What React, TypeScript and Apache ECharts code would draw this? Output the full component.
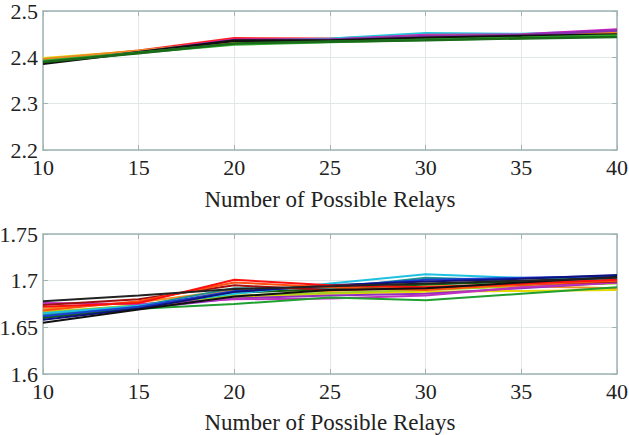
import React, { useEffect, useRef } from "react";
import * as echarts from "echarts";

const relays = [10, 15, 20, 25, 30, 35, 40];
const xTicks = [10, 15, 20, 25, 30, 35, 40];
const topYTicks = [2.2, 2.3, 2.4, 2.5];
const bottomYTicks = [1.6, 1.65, 1.7, 1.75];
const axisTitle = "Number of Possible Relays";

// Top panel series
const topYellow = [2.398, 2.413, 2.432, 2.436, 2.444, 2.446, 2.45];
const topBlue = [2.388, 2.412, 2.437, 2.437, 2.445, 2.447, 2.455];
const topRed = [2.392, 2.414, 2.441, 2.44, 2.447, 2.448, 2.455];
const topCyan = [2.395, 2.413, 2.435, 2.44, 2.452, 2.45, 2.457];
const topMagenta = [2.39, 2.412, 2.438, 2.438, 2.448, 2.449, 2.46];
const topOrange = [2.396, 2.414, 2.434, 2.437, 2.446, 2.448, 2.453];
const topPurple = [2.389, 2.411, 2.437, 2.438, 2.446, 2.448, 2.458];
const topBlack = [2.386, 2.411, 2.436, 2.436, 2.442, 2.446, 2.449];
const topGreen = [2.392, 2.41, 2.428, 2.433, 2.438, 2.442, 2.447];
const topDarkGreen = [2.39, 2.409, 2.43, 2.434, 2.437, 2.441, 2.444];

// Bottom panel series
const botBlack1 = [1.678, 1.684, 1.691, 1.694, 1.697, 1.7, 1.703];
const botBlack2 = [1.655, 1.669, 1.683, 1.69, 1.692, 1.698, 1.704];
const botRed = [1.672, 1.676, 1.701, 1.695, 1.693, 1.697, 1.701];
const botOrangeRed = [1.668, 1.678, 1.698, 1.693, 1.69, 1.696, 1.7];
const botBlue = [1.662, 1.672, 1.689, 1.694, 1.701, 1.703, 1.705];
const botCyan = [1.665, 1.673, 1.686, 1.697, 1.707, 1.703, 1.702];
const botGreen = [1.664, 1.67, 1.675, 1.682, 1.679, 1.686, 1.693];
const botYellow = [1.667, 1.672, 1.682, 1.686, 1.688, 1.689, 1.69];
const botMagenta = [1.676, 1.675, 1.68, 1.681, 1.684, 1.693, 1.698];
const botDarkGreen = [1.66, 1.671, 1.687, 1.691, 1.696, 1.699, 1.703];
const botOrange = [1.67, 1.677, 1.69, 1.689, 1.694, 1.694, 1.692];
const botNavy = [1.658, 1.67, 1.688, 1.695, 1.699, 1.702, 1.706];
const botLime = [1.666, 1.674, 1.684, 1.687, 1.69, 1.694, 1.697];
const botTeal = [1.663, 1.673, 1.692, 1.692, 1.703, 1.7, 1.701];
const botDarkRed = [1.674, 1.68, 1.695, 1.69, 1.692, 1.696, 1.699];
const botPurple = [1.661, 1.67, 1.681, 1.684, 1.686, 1.692, 1.698];

const topSeries: [number[], string][] = [
  [topYellow, "#e6d800"],
  [topBlue, "#1a2fd0"],
  [topRed, "#ff2020"],
  [topCyan, "#20c8d8"],
  [topMagenta, "#d020c0"],
  [topOrange, "#f08a20"],
  [topPurple, "#8a30b0"],
  [topBlack, "#111111"],
  [topGreen, "#30b030"],
  [topDarkGreen, "#1a6a1a"],
];

const bottomSeries: [number[], string][] = [
  [botYellow, "#e6d800"],
  [botLime, "#a0d020"],
  [botOrange, "#f09020"],
  [botPurple, "#9030c0"],
  [botMagenta, "#c030c0"],
  [botGreen, "#20a030"],
  [botDarkGreen, "#106010"],
  [botTeal, "#209090"],
  [botCyan, "#20c0e0"],
  [botBlue, "#1a40d0"],
  [botNavy, "#101080"],
  [botDarkRed, "#a01010"],
  [botOrangeRed, "#ff5010"],
  [botRed, "#ff1010"],
  [botBlack2, "#111111"],
  [botBlack1, "#222222"],
];

const FONT = "Liberation Serif";
const BORDER = "#9fb4b4";
const GRID = "#e2e8e8";

export default function App() {
  const ref = useRef<HTMLDivElement>(null);
  useEffect(() => {
    if (!ref.current) return;
    const chart = echarts.init(ref.current, undefined, { renderer: "svg" });
    const grids = [
      { left: 43, top: 11, width: 574, height: 139, outerBoundsMode: "none", containLabel: false },
      { left: 43, top: 234, width: 574, height: 140, outerBoundsMode: "none", containLabel: false },
    ];
    const xAxisBase = (gi: number, nameGap: number) => ({
      type: "value" as const,
      gridIndex: gi,
      min: xTicks[0],
      max: xTicks[xTicks.length - 1],
      interval: 5,
      name: axisTitle,
      nameLocation: "middle" as const,
      nameGap,
      nameTextStyle: { fontFamily: FONT, fontSize: 23, lineHeight: 20, color: "#222" },
      axisLine: { show: true, lineStyle: { color: BORDER, width: 1.5 } },
      axisTick: { show: true, inside: true, length: 5, lineStyle: { color: BORDER } },
      axisLabel: {
        fontFamily: FONT,
        fontSize: 22,
        lineHeight: 17,
        color: "#222",
        margin: 9,
      },
      splitLine: { show: true, lineStyle: { color: GRID, width: 1 } },
    });
    const xAxisTop = (gi: number) => ({
      type: "value" as const,
      gridIndex: gi,
      position: "top" as const,
      min: xTicks[0],
      max: xTicks[xTicks.length - 1],
      interval: 5,
      axisLine: { show: true, lineStyle: { color: BORDER, width: 1.5 } },
      axisTick: { show: true, inside: true, length: 5, lineStyle: { color: BORDER } },
      axisLabel: { show: false },
      splitLine: { show: false },
    });
    const yAxisBase = (gi: number, ticks: number[], interval: number) => ({
      type: "value" as const,
      gridIndex: gi,
      min: ticks[0],
      max: ticks[ticks.length - 1],
      interval,
      axisLine: { show: true, lineStyle: { color: BORDER, width: 1.5 } },
      axisTick: { show: true, inside: true, length: 5, lineStyle: { color: BORDER } },
      axisLabel: {
        fontFamily: FONT,
        fontSize: 22,
        lineHeight: 15,
        color: "#222",
        margin: 5,
        formatter: (v: number) => parseFloat(v.toFixed(2)).toString(),
      },
      splitLine: { show: true, lineStyle: { color: GRID, width: 1 } },
    });
    const yAxisRight = (gi: number, ticks: number[], interval: number) => ({
      type: "value" as const,
      gridIndex: gi,
      position: "right" as const,
      min: ticks[0],
      max: ticks[ticks.length - 1],
      interval,
      axisLine: { show: true, lineStyle: { color: BORDER, width: 1.5 } },
      axisTick: { show: true, inside: true, length: 5, lineStyle: { color: BORDER } },
      axisLabel: { show: false },
      splitLine: { show: false },
    });

    const mk = (vals: number[], color: string, xi: number, yi: number, w: number) => ({
      type: "line" as const,
      xAxisIndex: xi,
      yAxisIndex: yi,
      data: relays.map((x, i) => [x, vals[i]]),
      showSymbol: false,
      symbol: "none",
      lineStyle: { color, width: w },
      itemStyle: { color },
      silent: true,
    });

    chart.setOption({
      animation: false,
      backgroundColor: "#ffffff",
      textStyle: { fontFamily: FONT },
      grid: grids,
      xAxis: [xAxisBase(0, 39), xAxisBase(1, 38), xAxisTop(0), xAxisTop(1)],
      yAxis: [
        yAxisBase(0, topYTicks, 0.1),
        yAxisBase(1, bottomYTicks, 0.05),
        yAxisRight(0, topYTicks, 0.1),
        yAxisRight(1, bottomYTicks, 0.05),
      ],
      series: [
        ...topSeries.map(([v, c]) => mk(v, c, 0, 0, 2.6)),
        ...bottomSeries.map(([v, c]) => mk(v, c, 1, 1, 2)),
      ],
    });
    return () => chart.dispose();
  }, []);
  return (
    <div
      ref={ref}
      style={{ position: "fixed", left: 0, top: 0, width: 629, height: 435, background: "#fff" }}
    />
  );
}
